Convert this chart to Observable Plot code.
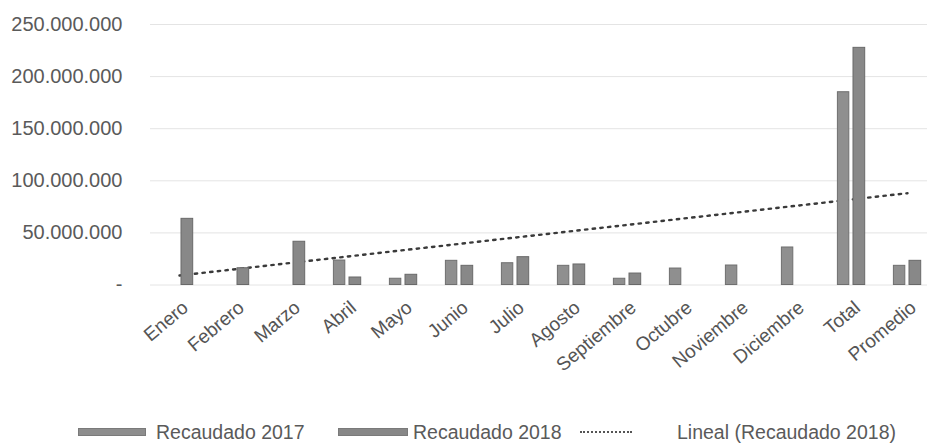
<!DOCTYPE html>
<html>
<head>
<meta charset="utf-8">
<script src="https://cdn.jsdelivr.net/npm/d3@7"></script>
<script src="https://cdn.jsdelivr.net/npm/@observablehq/plot@0.6"></script>
<style>
  html, body { margin: 0; padding: 0; background: #fff; }
  #wrap { position: relative; width: 927px; height: 443px; font-family: "Liberation Sans", Arial, sans-serif; color: #555; }
  #chart svg { display: block; overflow: visible; }
  .ylab text { font-size: 20px; fill: #5a5a5a; }
  .xlab text { font-size: 19px; fill: #555; }
  .leg { position: absolute; top: 420px; height: 24px; line-height: 24px; font-size: 19.5px; color: #5a5a5a; white-space: nowrap; }
  .sw { position: absolute; top: 428px; height: 8px; background: #8d8d8d; border: 1px solid #7a7a7a; box-sizing: border-box; }
  .dots { position: absolute; top: 431px; height: 0; border-top: 2px dotted #555; }
</style>
</head>
<body>
<div id="wrap">
  <div id="chart"></div>
  <div class="sw" style="left:78px;width:68px;"></div>
  <div class="leg" id="l1" style="left:156px;"></div>
  <div class="sw" style="left:338px;width:70px;background:#878787;"></div>
  <div class="leg" id="l2" style="left:413px;"></div>
  <div class="dots" style="left:580px;width:52px;"></div>
  <div class="leg" id="l3" style="left:677px;"></div>
</div>
<script>
const categories = ["Enero","Febrero","Marzo","Abril","Mayo","Junio","Julio","Agosto","Septiembre","Octubre","Noviembre","Diciembre","Total","Promedio"];
const recaudado2017 = [null,null,null,23.5e6,6.0e6,23.2e6,20.9e6,18.4e6,6.0e6,15.8e6,18.7e6,36.0e6,185.0e6,18.4e6];
const recaudado2018 = [63.5e6,16.1e6,41.5e6,7.2e6,9.8e6,18.4e6,26.7e6,19.7e6,11.0e6,null,null,null,227.6e6,23.2e6];
const trendCategories = ["Enero","Promedio"];
const trendValues = [9.1e6, 88.1e6];
const yTicks = [0,50e6,100e6,150e6,200e6,250e6];
const seriesNames = ["Recaudado 2017","Recaudado 2018","Lineal (Recaudado 2018)"];

document.getElementById("l1").textContent = seriesNames[0];
document.getElementById("l2").textContent = seriesNames[1];
document.getElementById("l3").textContent = seriesNames[2];

const d2017 = categories.map((c,i) => ({cat: c, v: recaudado2017[i]})).filter(d => d.v != null);
const d2018 = categories.map((c,i) => ({cat: c, v: recaudado2018[i]})).filter(d => d.v != null);
const trend = trendCategories.map((c,i) => ({cat: c, v: trendValues[i]}));

const fmt = d => d === 0 ? "-" : d3.format(",")(d).replace(/,/g, ".");

const plot = Plot.plot({
  width: 927,
  height: 370,
  marginLeft: 150,
  marginRight: 0,
  marginTop: 24,
  marginBottom: 85.5,
  style: {fontFamily: '"Liberation Sans", Arial, sans-serif', background: "transparent", overflow: "visible"},
  x: {domain: categories, range: [150.5, 935.9], padding: 0, label: null},
  y: {domain: [0, 250e6], label: null},
  marks: [
    Plot.ruleY(yTicks, {stroke: "#e4e4e4", strokeWidth: 1}),
    Plot.line(trend, {x: "cat", y: "v", stroke: "#3a3a3a", strokeWidth: 2.4, strokeDasharray: "2.4,5.3"}),
    Plot.barY(d2017, {x: "cat", y: "v", fill: "#8f8f8f", stroke: "#6f6f6f", strokeWidth: 1, insetLeft: 14.4, insetRight: 30.2}),
    Plot.barY(d2018, {x: "cat", y: "v", fill: "#888888", stroke: "#696969", strokeWidth: 1, insetLeft: 30, insetRight: 14.3}),
    Plot.axisY({ticks: yTicks, tickFormat: fmt, tickSize: 0, tickPadding: 28, label: null, className: "ylab"}),
    Plot.axisX({tickSize: 0, tickRotate: -40, tickPadding: 20, dx: 6, label: null, className: "xlab"})
  ]
});
document.getElementById("chart").appendChild(plot);
</script>
</body>
</html>
